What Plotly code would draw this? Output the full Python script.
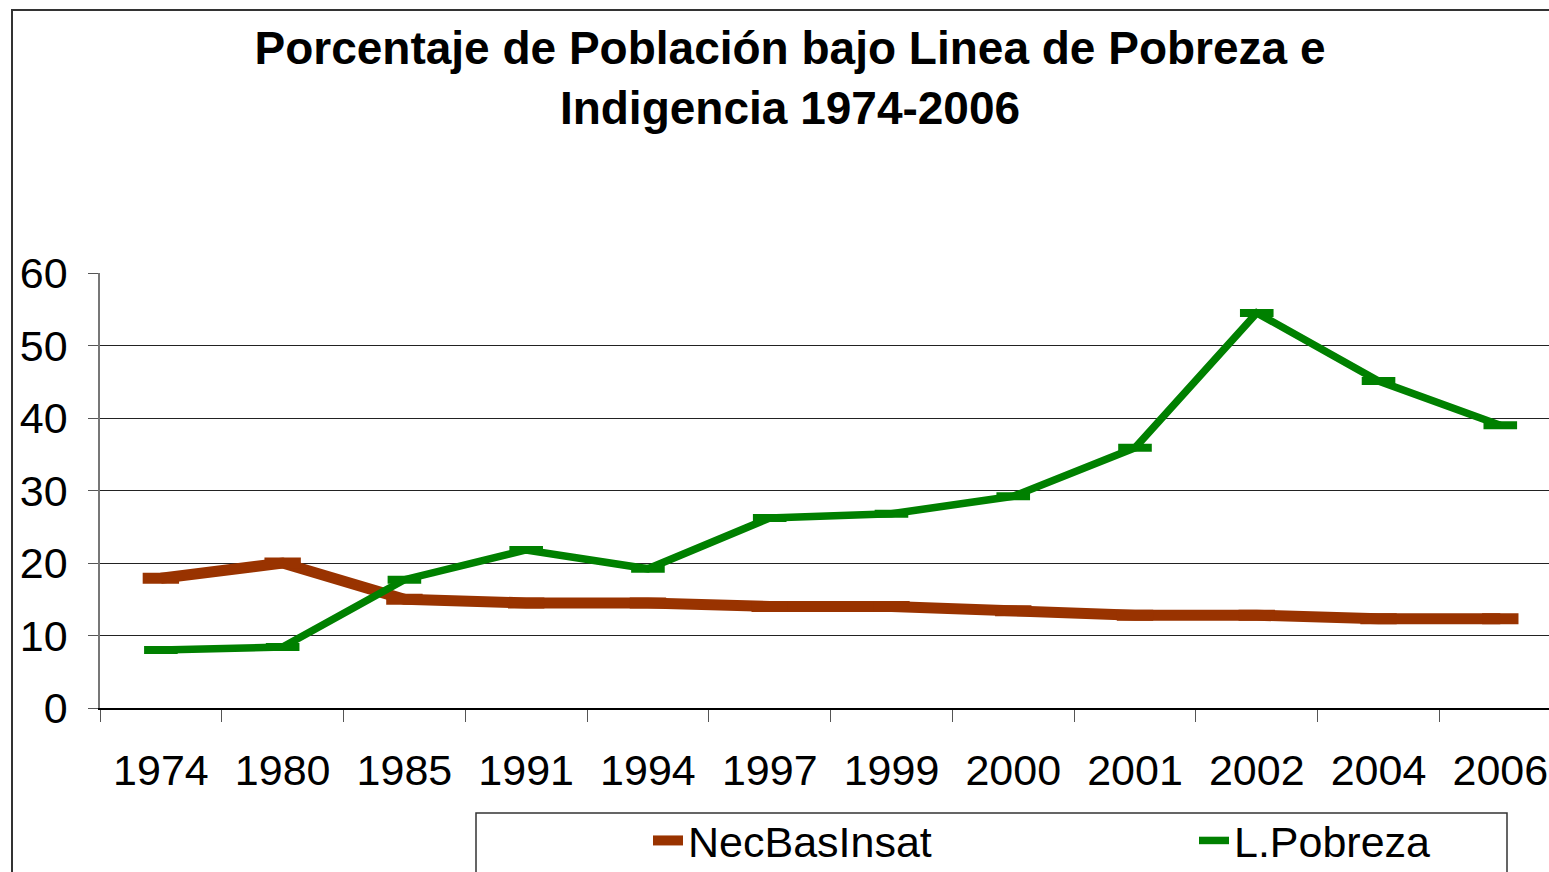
import plotly.graph_objects as go

YEARS = ["1974", "1980", "1985", "1991", "1994", "1997", "1999", "2000", "2001", "2002", "2004", "2006"]
NEC_BAS_INSAT = [17.9, 20.0, 15.0, 14.5, 14.5, 14.0, 14.0, 13.4, 12.8, 12.8, 12.3, 12.3]
L_POBREZA = [8.0, 8.4, 17.7, 21.8, 19.2, 26.2, 26.8, 29.2, 35.9, 54.5, 45.1, 39.0]

TITLE = "Porcentaje de Población bajo Linea de Pobreza e<br>Indigencia 1974-2006"
FONT = "Liberation Sans, Arial, sans-serif"
BROWN = "#993300"
GREEN = "#008000"

W, H = 1549, 872
PLOT_LEFT, PLOT_RIGHT, PLOT_TOP, PLOT_BOTTOM = 100, 1549, 273, 708
M_L = PLOT_LEFT
M_R = W - PLOT_RIGHT
M_T = PLOT_TOP
M_B = H - PLOT_BOTTOM
PW = PLOT_RIGHT - PLOT_LEFT
PH = PLOT_BOTTOM - PLOT_TOP


def px_x(p):
    return (p - PLOT_LEFT) / PW


def px_y(p):
    return (PLOT_BOTTOM - p) / PH


fig = go.Figure()
fig.add_trace(go.Scatter(
    x=YEARS, y=NEC_BAS_INSAT, mode="lines+markers", name="NecBasInsat",
    line=dict(color=BROWN, width=11),
    marker=dict(symbol="line-ew", size=26, color=BROWN, line=dict(color=BROWN, width=11)),
))
fig.add_trace(go.Scatter(
    x=YEARS, y=L_POBREZA, mode="lines+markers", name="L.Pobreza",
    line=dict(color=GREEN, width=7.5),
    marker=dict(symbol="line-ew", size=24, color=GREEN, line=dict(color=GREEN, width=8)),
))

# outer chart border and legend box
fig.add_shape(type="rect", xref="paper", yref="paper",
              x0=px_x(12), x1=px_x(1570), y0=px_y(900), y1=px_y(10),
              line=dict(color="#333333", width=2), layer="below")
fig.add_shape(type="rect", xref="paper", yref="paper",
              x0=px_x(476), x1=px_x(1507), y0=px_y(900), y1=px_y(813),
              line=dict(color="#333333", width=1.5), layer="below")

fig.update_layout(
    width=W, height=H,
    margin=dict(l=M_L, r=M_R, t=M_T, b=M_B, autoexpand=False),
    paper_bgcolor="white", plot_bgcolor="white",
    font=dict(family=FONT, color="black", size=42),
    title=dict(text=TITLE, x=790 / W, xanchor="center", y=1 - 64 / H, yanchor="top",
               font=dict(family=FONT, size=46, color="black", weight="bold")),
    showlegend=True,
    legend=dict(orientation="h", x=px_x(648), xanchor="left", y=px_y(806), yanchor="top",
                font=dict(family=FONT, size=43), bgcolor="rgba(0,0,0,0)",
                entrywidth=501, entrywidthmode="pixels"),
)
fig.update_xaxes(
    type="category", range=[-0.5, len(YEARS) - 0.6],
    showline=True, linecolor="black", linewidth=1.5,
    ticks="outside", tickson="boundaries", ticklen=12, tickcolor="#555555",
    ticklabelstandoff=24, showgrid=False, tickfont=dict(size=43),
)
fig.update_yaxes(
    range=[0, 60], dtick=10, showline=True, linecolor="#777777", linewidth=1.5,
    ticks="outside", ticklen=10, tickcolor="#555555", ticklabelstandoff=12,
    showgrid=True, gridcolor="#222222", gridwidth=1, zeroline=False,
    tickfont=dict(size=43),
)

# drop the default page margin so the figure fills the window
fig.write_html("out.html", config={"displayModeBar": False},
               post_script="document.body.style.margin = '0';")
